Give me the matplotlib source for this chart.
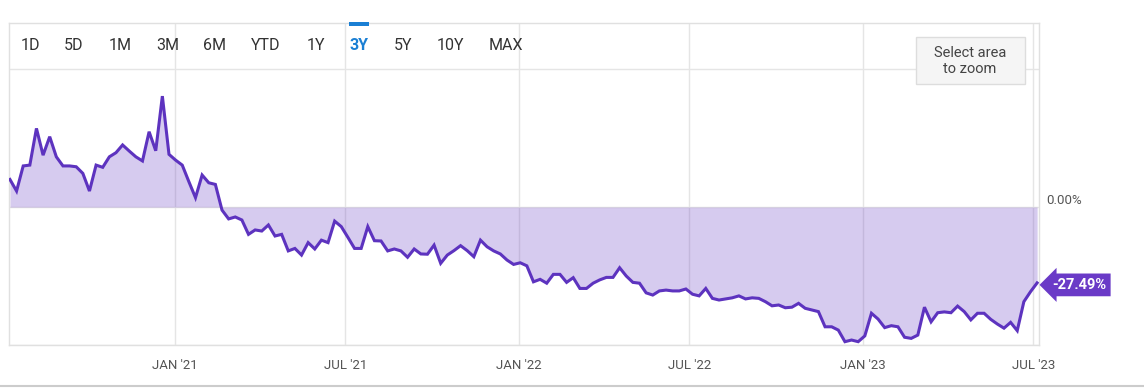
import matplotlib
matplotlib.use("Agg")
import matplotlib.pyplot as plt
from matplotlib.patches import Rectangle
from matplotlib.lines import Line2D
import pandas as pd

# weekly % change, 3Y view
pct_change = [
    10.0, 5.8, 14.9, 15.2, 28.5, 18.8, 25.5, 18.2, 14.9, 14.9,
    14.6, 12.2, 5.8, 15.2, 14.4, 18.2, 19.7, 22.5, 20.3, 18.2,
    16.7, 27.3, 20.4, 40.2, 19.1, 17.0, 15.2, 9.2, 3.4, 11.6,
    8.8, 8.2, -1.1, -4.3, -3.6, -4.7, -9.9, -8.3, -8.7, -6.5,
    -10.5, -9.9, -15.9, -15.0, -17.4, -12.9, -15.2, -12.0, -12.9, -5.1,
    -7.1, -11.0, -15.0, -15.0, -7.1, -12.2, -12.3, -15.9, -15.2, -15.9,
    -18.2, -15.2, -17.0, -17.1, -13.8, -20.4, -17.4, -15.8, -14.0, -15.8,
    -18.0, -12.0, -14.4, -15.9, -17.0, -19.2, -20.8, -20.2, -21.3, -27.1,
    -26.2, -27.6, -24.4, -24.4, -27.3, -25.6, -29.5, -29.5, -27.6, -26.4,
    -25.5, -25.5, -22.0, -25.0, -27.3, -27.6, -31.1, -31.9, -30.4, -30.1,
    -30.4, -30.4, -29.7, -31.6, -32.2, -29.5, -33.1, -33.7, -33.3, -32.9,
    -32.2, -33.3, -32.9, -33.1, -34.3, -35.8, -35.5, -36.5, -36.3, -34.9,
    -36.7, -37.3, -37.9, -43.4, -43.4, -44.6, -48.8, -48.2, -48.8, -46.7,
    -38.5, -40.6, -43.7, -43.0, -43.4, -47.2, -47.6, -46.4, -36.3, -41.6,
    -38.3, -38.0, -38.3, -35.9, -37.9, -40.9, -38.5, -38.5, -40.7, -42.4,
    -43.9, -41.8, -44.8, -34.3, -30.7, -27.49,
]
start_date = "2020-07-10"
end_date = "2023-07-05"

tick_dates = ["2021-01-01", "2021-07-01", "2022-01-01",
              "2022-07-01", "2023-01-01", "2023-07-01"]
tick_labels = ["JAN '21", "JUL '21", "JAN '22", "JUL '22", "JAN '23", "JUL '23"]

range_buttons = ["1D", "5D", "1M", "3M", "6M", "YTD", "1Y", "3Y", "5Y", "10Y", "MAX"]
active_button = "3Y"
last_label = "-27.49%"

W, H = 1144, 391
button_x = [30, 74, 120, 168, 215, 266, 316, 359, 403, 450, 506]

plt.rcParams['font.family'] = ['Roboto', 'DejaVu Sans']

dates = pd.date_range(start_date, end_date, periods=len(pct_change))

fig = plt.figure(figsize=(W / 100, H / 100), dpi=100)
ax = fig.add_axes([9 / W, 46 / H, 1030 / W, 322 / H])

line_color = '#5d33bf'
ax.fill_between(dates, pct_change, 0, color='#6a3fc4', alpha=0.27, lw=0, zorder=2)
ax.plot(dates, pct_change, color=line_color, lw=2.2, zorder=3,
        solid_joinstyle='miter')

ax.set_xlim(pd.Timestamp("2020-07-09"), pd.Timestamp("2023-07-07"))
ax.set_ylim(-50, 66.7)

ax.set_xticks(pd.to_datetime(tick_dates))
ax.set_xticklabels(tick_labels)
ax.set_yticks([-50, 0, 50])
ax.set_yticklabels([])
ax.tick_params(axis='x', length=0, pad=10, labelsize=9.5, labelcolor='#555555')
ax.tick_params(axis='y', length=0)
ax.grid(True, color='#e5e5e5', lw=1, zorder=1)
ax.set_axisbelow(True)
for s in ax.spines.values():
    s.set_color('#e0e0e0')
    s.set_linewidth(1)

# zero label on the right
ax.annotate("0.00%", xy=(1, 0), xycoords=('axes fraction', 'data'),
            xytext=(7, 7), textcoords='offset pixels',
            ha='left', va='center', fontsize=9.5, color='#555555')

# last value tag
ax.annotate(last_label, xy=(dates[-1], pct_change[-1]),
            xytext=(15, -2), textcoords='offset pixels',
            ha='left', va='center', fontsize=10.5, fontweight='bold', color='white',
            bbox=dict(boxstyle='larrow,pad=0.3', fc='#6a3ac7', ec='none'),
            annotation_clip=False)

# range buttons
for label, bx in zip(range_buttons, button_x):
    active = label == active_button
    fig.text(bx / W, 1 - 45 / H, label, ha='center', va='center',
             fontsize=11.5, color='#1a7fd4' if active else '#333333',
             fontweight='bold' if active else 'normal')
    if active:
        fig.add_artist(Rectangle(((bx - 10) / W, 1 - 26 / H), 20 / W, 4 / H,
                                 transform=fig.transFigure, fc='#1a7fd4',
                                 ec='none'))

# zoom hint box
fig.add_artist(Rectangle((916 / W, 1 - 84 / H), 109 / W, 47 / H,
                         transform=fig.transFigure, fc='#f5f5f5',
                         ec='#dddddd', lw=1))
fig.text(970 / W, 1 - 61 / H, "Select area\nto zoom", ha='center', va='center',
         fontsize=10.5, color='#444444', linespacing=1.1)

# bottom separator
fig.add_artist(Line2D([0, 1], [1 - 386 / H, 1 - 386 / H],
                      transform=fig.transFigure, color='#cccccc', lw=1.5))

fig.savefig("out.png", dpi=100)
